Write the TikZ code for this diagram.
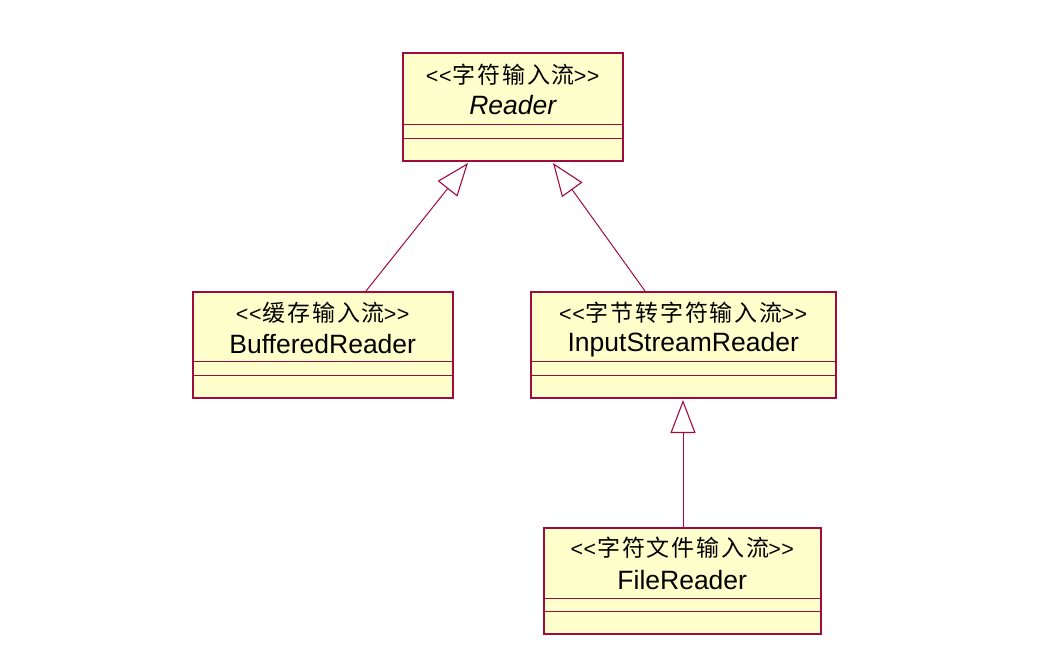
\documentclass[tikz,border=0pt]{standalone}
\usepackage{fontspec}
\setmainfont{Liberation Sans}
\newfontfamily\cjk[LetterSpace=8]{Noto Sans CJK SC}
\usetikzlibrary{arrows.meta,calc}
\definecolor{umlborder}{RGB}{160,10,60}
\definecolor{umlfill}{RGB}{255,255,204}
\newcommand{\stereo}[1]{<\kern0.5pt<\kern1pt{\cjk\fontsize{23}{24}\selectfont #1}\kern-1pt>\kern0.5pt>}
\tikzset{
  cls/.style={draw=umlborder, fill=umlfill, line width=1.5pt, minimum width=#1, minimum height=106pt, inner sep=0pt, anchor=north west},
  compline/.style={draw=umlborder, line width=1pt},
  stereotxt/.style={font=\fontsize{21.5}{24}\selectfont, inner sep=0pt, anchor=center},
  nametxt/.style={font=\fontsize{26.5}{30}\selectfont, inner sep=0pt, anchor=center},
  inherit/.style={draw=umlborder, line width=1pt, -{Triangle[open, length=33pt, width=25pt, line width=1.1pt]}}
}
\begin{document}
\begin{tikzpicture}[x=1pt, y=-1pt]
\useasboundingbox (0,0) rectangle (1037,670);
% boxes
\node[cls=220pt, minimum height=108pt] (reader) at (402,52) {};
\node[cls=260pt] (buf) at (192,291) {};
\node[cls=305pt] (isr) at (530,291) {};
\node[cls=277pt] (file) at (543,527) {};
% compartments
\foreach \b/\a/\c in {reader/72/86, buf/70/84, isr/70/84, file/71/84} {
  \draw[compline] ($(\b.north west)+(0,\a)$) -- ($(\b.north east)+(0,\a)$);
  \draw[compline] ($(\b.north west)+(0,\c)$) -- ($(\b.north east)+(0,\c)$);
}
% texts
\node[stereotxt] (readerst) at ($(reader.north)+(0,23)$) {\stereo{字符输入流}};
\node[nametxt] (readernm) at ($(reader.north)+(0,53)$) {\itshape Reader};
\node[stereotxt] (bufst) at ($(buf.north)+(0,22)$) {\stereo{缓存输入流}};
\node[nametxt] (bufnm) at ($(buf.north)+(0,53)$) {BufferedReader};
\node[stereotxt] (isrst) at ($(isr.north)+(0,22)$) {\stereo{字节转字符输入流}};
\node[nametxt] (isrnm) at ($(isr.north)+(0,54)$) {InputStreamReader};
\node[stereotxt] (filest) at ($(file.north)+(0,21)$) {\stereo{字符文件输入流}};
\node[nametxt] (filenm) at ($(file.north)+(0,53)$) {FileReader};
% connector attachment points
\coordinate (bufTop) at ($(buf.north west)+(174,0)$);
\coordinate (readerL) at ($(reader.south west)+(66,1.5)$);
\coordinate (isrTop) at ($(isr.north west)+(115,0)$);
\coordinate (readerR) at ($(reader.south west)+(151,1.5)$);
\coordinate (fileTop) at ($(file.north west)+(140,0)$);
\coordinate (isrBot) at ($(isr.south west)+(153,1.5)$);
% inheritance
\draw[inherit] (bufTop) -- (readerL);
\draw[inherit] (isrTop) -- (readerR);
\draw[inherit] (fileTop) -- (isrBot);
\end{tikzpicture}
\end{document}
